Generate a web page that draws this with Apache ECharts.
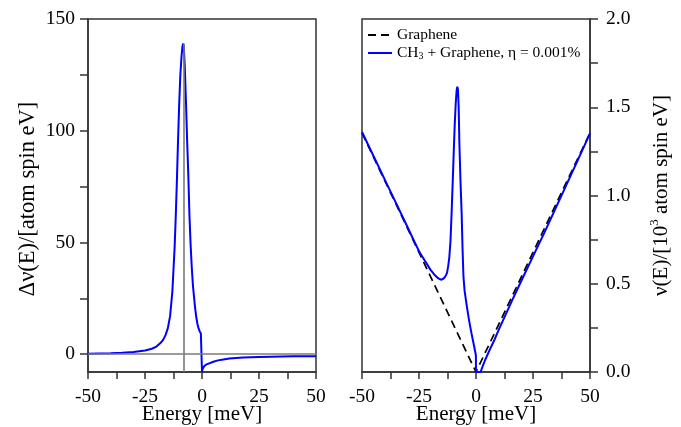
<!DOCTYPE html>
<html>
<head>
<meta charset="utf-8">
<script src="https://cdn.jsdelivr.net/npm/echarts@6/dist/echarts.min.js"></script>
<style>html,body{margin:0;padding:0;background:#fff}#c{width:681px;height:427px}</style>
</head>
<body>
<div id="c"></div>
<script>
// ---- Left panel: Δν(E) ----
const deltaE  = [-50,-45,-40,-35,-30,-25,-22,-20,-18,-17,-16,-15,-14,-13,-12,-11.5,-11,-10.5,-10,-9.5,-9,-8.6,-8.3,-8,-7.6,-7,-6.5,-6,-5.5,-5,-4.5,-4,-3.5,-3,-2.5,-2,-1.5,-1,-0.5,0,0,0.3,0.7,1,2,3.5,5,7,9.4,12,15,18,25,30,40,50];
const deltaNu = [0.2,0.3,0.4,0.6,1.0,1.6,2.4,3.4,5.2,6.5,8.5,11.5,17,28,48,62,78,96,112,125,133,137.5,139,138,130,112,95,80,62,49,39,31,25.6,20.5,16.5,13.5,11.5,10.2,9.2,8.5,-7.9,-6.6,-5.8,-5.3,-4.6,-4.0,-3.4,-2.8,-2.4,-2.0,-1.7,-1.5,-1.3,-1.2,-1.0,-0.9];
const peakEnergy = -8.2;
const peakValue = 139;

// ---- Right panel: ν(E) ----
const grapheneE  = [-50, 0, 50];
const grapheneNu = [1.355, 0, 1.355];
const ch3E  = [-50,-45,-40,-35,-30,-27,-25,-24,-22,-20,-18,-16.5,-15.4,-14.5,-13.5,-12.7,-12.2,-11.7,-11.2,-10.7,-10.2,-9.7,-9.3,-8.9,-8.5,-8.2,-7.9,-7.6,-7.3,-6.8,-6.3,-5.9,-5.5,-5,-4,-3,-2,-1.2,-0.5,-0.05,0,2,3,4,6,8,10,13,16,20,25,30,35,40,45,50];
const ch3Nu = [1.36,1.225,1.09,0.955,0.82,0.738,0.685,0.662,0.622,0.58,0.548,0.53,0.523,0.527,0.54,0.562,0.6,0.65,0.74,0.9,1.08,1.27,1.41,1.52,1.595,1.617,1.6,1.5,1.3,1.08,0.9,0.7,0.54,0.46,0.37,0.29,0.22,0.17,0.125,0.095,0,0,0.035,0.068,0.125,0.18,0.24,0.325,0.41,0.52,0.655,0.79,0.93,1.07,1.21,1.352];

// ---- Ticks ----
const xTicks  = [-50,-37.5,-25,-12.5,0,12.5,25,37.5,50];
const xLabels = [-50,-25,0,25,50];
const yLeftTicks  = [0,25,50,75,100,125,150];
const yLeftLabels = [0,50,100,150];
const yRightTicks  = [0,0.25,0.5,0.75,1,1.25,1.5,1.75,2];
const yRightLabels = [0,0.5,1,1.5,2];

const nameGraphene = 'Graphene';
const nameCH3 = 'CH3 + Graphene, η = 0.001%';

const FONT = '"Liberation Serif","Times New Roman",serif';
const zip = (a, b) => a.map((v, i) => [v, b[i]]);

const axisLineStyle = {color: '#333', width: 1.5};
function xAxis(gi) {
  return {
    type: 'value', gridIndex: gi, min: -50, max: 50,
    name: 'Energy [meV]', nameLocation: 'middle', nameGap: 32, nameMoveOverlap: false,
    nameTextStyle: {fontFamily: FONT, fontSize: 21, color: '#000'},
    axisLine: {onZero: false, lineStyle: axisLineStyle},
    axisTick: {customValues: xTicks, length: 7, lineStyle: axisLineStyle},
    axisLabel: {customValues: xLabels, fontFamily: FONT, fontSize: 19.5, color: '#000', margin: 15},
    splitLine: {show: false}
  };
}

const chart = echarts.init(document.getElementById('c'), null, {renderer: 'canvas'});
chart.setOption({
  animation: false,
  backgroundColor: '#fff',
  grid: [
    {left: 88, right: 365, top: 19, bottom: 55, show: true, borderColor: '#333', borderWidth: 1.5, outerBoundsMode: 'none', containLabel: false},
    {left: 362, right: 91, top: 19, bottom: 55, show: true, borderColor: '#333', borderWidth: 1.5, outerBoundsMode: 'none', containLabel: false}
  ],
  xAxis: [xAxis(0), xAxis(1)],
  yAxis: [
    {
      type: 'value', gridIndex: 0, min: -8, max: 150, position: 'left',
      name: 'Δν(E)/[atom spin eV]', nameLocation: 'middle', nameGap: 48, nameRotate: 90, nameMoveOverlap: false,
      nameTextStyle: {fontFamily: FONT, fontSize: 22.5, color: '#000', padding: [0, 7, 0, 0]},
      axisLine: {onZero: false, lineStyle: axisLineStyle},
      axisTick: {customValues: yLeftTicks, length: 8, lineStyle: axisLineStyle},
      axisLabel: {customValues: yLeftLabels, fontFamily: FONT, fontSize: 19.5, color: '#000', margin: 13},
      splitLine: {show: false}
    },
    {
      type: 'value', gridIndex: 1, min: 0, max: 2, position: 'right',
      name: '{a|ν(E)/[10}{s|3}{a| atom spin eV]}', nameLocation: 'middle', nameGap: 58, nameRotate: 90, nameMoveOverlap: false,
      nameTextStyle: {fontFamily: FONT, fontSize: 21, color: '#000',
        rich: {a: {fontFamily: FONT, fontSize: 21, color: '#000', lineHeight: 24, verticalAlign: 'bottom'},
               s: {fontFamily: FONT, fontSize: 13, color: '#000', lineHeight: 24, verticalAlign: 'top', padding: [0, 0, 9, 0]}}},
      axisLine: {onZero: false, lineStyle: axisLineStyle},
      axisTick: {customValues: yRightTicks, length: 8, lineStyle: axisLineStyle},
      axisLabel: {customValues: yRightLabels, fontFamily: FONT, fontSize: 19.5, color: '#000', margin: 16,
        formatter: v => v.toFixed(1)},
      splitLine: {show: false}
    }
  ],
  legend: {
    data: [nameGraphene, nameCH3],
    orient: 'vertical', left: 362, top: 22,
    itemWidth: 24, itemHeight: 10, itemGap: 2,
    itemStyle: {opacity: 0},
    textStyle: {fontFamily: FONT, fontSize: 15.5, color: '#000',
      rich: {t: {fontFamily: FONT, fontSize: 15.5, color: '#000'},
             sub: {fontFamily: FONT, fontSize: 10, color: '#000', verticalAlign: 'bottom', padding: [6, 0, 0, 0]}}},
    formatter: n => n === nameCH3 ? '{t|CH}{sub|3}{t| + Graphene, η = 0.001%}' : '{t|' + n + '}'
  },
  series: [
    {
      type: 'line', name: 'Δν', xAxisIndex: 0, yAxisIndex: 0,
      data: zip(deltaE, deltaNu), showSymbol: false, symbol: 'none',
      lineStyle: {color: '#0000ff', width: 2}, itemStyle: {color: '#0000ff'},
      markLine: {
        silent: true, symbol: 'none', label: {show: false},
        lineStyle: {color: '#7a7a7a', width: 1.6, type: 'solid'},
        data: [
          [{coord: [peakEnergy, -8]}, {coord: [peakEnergy, peakValue]}],
          [{coord: [-50, 0]}, {coord: [50, 0]}]
        ]
      },
      z: 3
    },
    {
      type: 'line', name: nameGraphene, xAxisIndex: 1, yAxisIndex: 1,
      data: zip(grapheneE, grapheneNu), showSymbol: false, symbol: 'none',
      lineStyle: {color: '#000', width: 1.7, type: [8, 5]}, itemStyle: {color: '#000'}, z: 2
    },
    {
      type: 'line', name: nameCH3, xAxisIndex: 1, yAxisIndex: 1,
      data: zip(ch3E, ch3Nu), showSymbol: false, symbol: 'none',
      lineStyle: {color: '#0000ff', width: 2}, itemStyle: {color: '#0000ff'}, z: 3
    }
  ]
});
</script>
</body>
</html>
